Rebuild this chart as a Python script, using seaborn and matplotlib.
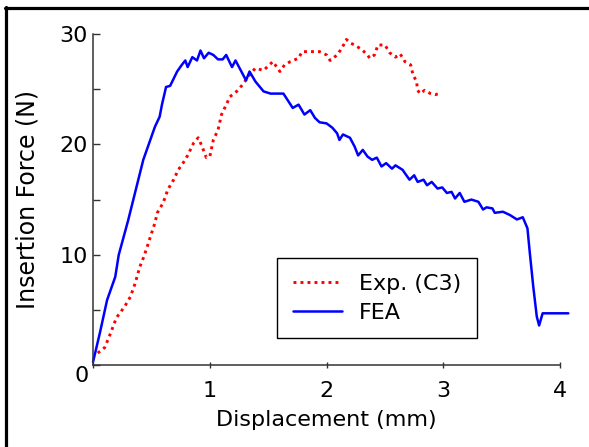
import numpy as np
import pandas as pd
import matplotlib.pyplot as plt
from matplotlib.lines import Line2D
import seaborn as sns

# FEA curve (displacement mm, force N)
fea_x = [0.0, 0.06, 0.12, 0.19, 0.22, 0.30, 0.43, 0.53, 0.57, 0.59, 0.625, 0.66, 0.72, 0.76,
         0.79, 0.81, 0.85, 0.89, 0.92, 0.95, 0.99, 1.03, 1.07, 1.11, 1.14, 1.19, 1.22, 1.27,
         1.31, 1.34, 1.39, 1.46, 1.52, 1.63, 1.71, 1.76, 1.81, 1.86, 1.90, 1.94, 2.0, 2.05,
         2.09, 2.11, 2.14, 2.2, 2.24, 2.27, 2.31, 2.35, 2.39, 2.43, 2.47, 2.51, 2.56, 2.59,
         2.65, 2.71, 2.75, 2.78, 2.83, 2.86, 2.9, 2.95, 2.99, 3.03, 3.07, 3.10, 3.14, 3.18,
         3.24, 3.30, 3.34, 3.37, 3.42, 3.44, 3.51, 3.57, 3.63, 3.68, 3.72, 3.74, 3.77, 3.80,
         3.82, 3.85, 4.07]
fea_y = [0.3, 3.0, 5.9, 8.0, 10.0, 13.1, 18.6, 21.6, 22.5, 23.6, 25.2, 25.3, 26.6, 27.2,
         27.6, 27.0, 27.9, 27.6, 28.5, 27.8, 28.3, 28.1, 27.7, 27.7, 28.1, 27.0, 27.6, 26.6,
         25.8, 26.6, 25.7, 24.8, 24.6, 24.6, 23.3, 23.6, 22.7, 23.1, 22.4, 22.0, 21.9, 21.5,
         21.0, 20.4, 20.9, 20.6, 19.8, 19.0, 19.5, 18.9, 18.6, 18.8, 18.0, 18.3, 17.8, 18.1,
         17.7, 16.8, 17.2, 16.6, 16.8, 16.3, 16.6, 16.0, 16.1, 15.6, 15.7, 15.1, 15.6, 14.8,
         15.0, 14.8, 14.1, 14.3, 14.2, 13.8, 13.9, 13.6, 13.2, 13.4, 12.4, 10.2, 7.1, 4.4,
         3.6, 4.7, 4.7]

# experiment C3
exp_x = [0.04, 0.10, 0.15, 0.20, 0.27, 0.32, 0.36, 0.40, 0.43, 0.46, 0.49, 0.53, 0.55, 0.60,
         0.64, 0.69, 0.73, 0.77, 0.81, 0.86, 0.90, 0.93, 0.97, 1.0, 1.03, 1.07, 1.10, 1.15,
         1.17, 1.23, 1.28, 1.34, 1.39, 1.46, 1.49, 1.54, 1.60, 1.64, 1.69, 1.76, 1.79, 1.86,
         1.94, 2.0, 2.03, 2.09, 2.13, 2.17, 2.2, 2.24, 2.3, 2.35, 2.37, 2.41, 2.44, 2.5,
         2.54, 2.59, 2.63, 2.67, 2.72, 2.74, 2.77, 2.78, 2.80, 2.84, 2.89, 2.93, 2.96]
exp_y = [1.1, 1.6, 2.9, 4.3, 5.3, 6.2, 7.4, 8.9, 9.7, 10.6, 11.6, 12.9, 13.8, 14.7,
         15.9, 16.8, 17.7, 18.3, 19.0, 20.1, 20.6, 19.9, 18.8, 18.9, 20.4, 21.3, 22.7, 23.8,
         24.3, 24.8, 25.4, 26.3, 26.9, 26.7, 27.0, 27.5, 26.6, 27.2, 27.5, 27.8, 28.4, 28.4,
         28.4, 28.1, 27.6, 28.1, 28.7, 29.5, 29.2, 29.0, 28.6, 28.1, 27.8, 28.1, 29.0, 29.0,
         28.3, 27.9, 28.2, 27.5, 27.2, 26.3, 25.7, 24.9, 24.6, 24.9, 24.6, 24.5, 24.6]

fea = pd.DataFrame({'disp': fea_x, 'force': fea_y})
exp = pd.DataFrame({'disp': exp_x, 'force': exp_y})

sns.set_style('ticks')
plt.rcParams['font.family'] = ['DejaVu Sans']
plt.rcParams['text.color'] = 'black'
plt.rcParams['axes.labelcolor'] = 'black'

fig = plt.figure(figsize=(5.89, 4.47), dpi=100)
ax = fig.add_axes([0.158, 0.183, 0.793, 0.741])

sns.lineplot(data=exp, x='disp', y='force', sort=False, estimator=None, ax=ax,
             color='#ff0000', lw=2.1, linestyle=(0, (1, 1.4)), label='Exp. (C3)')
sns.lineplot(data=fea, x='disp', y='force', sort=False, estimator=None, ax=ax,
             color='#0000ff', lw=1.8, label='FEA')
ax.lines[-1].set_clip_on(False)

ax.set_xlim(0, 4)
ax.set_ylim(0, 30)
ax.set_xticks([0, 1, 2, 3, 4])
ax.set_xticklabels(['', '1', '2', '3', '4'])
ax.set_yticks([0, 10, 20, 30])
ax.set_yticklabels(['', '10', '20', '30'])
ax.set_yticks([5, 15, 25], minor=True)
ax.tick_params(axis='x', direction='inout', length=5, width=1, colors='#333333',
               labelcolor='black', labelsize=16, pad=9)
ax.tick_params(axis='y', which='both', direction='in', length=5, width=1, colors='#333333',
               labelcolor='black', labelsize=16, pad=4)
ax.annotate('0', xy=(0, 0), xytext=(-3, -8), textcoords='offset points',
            ha='right', va='center', fontsize=16, color='black')

sns.despine(ax=ax)
for s in ['left', 'bottom']:
    ax.spines[s].set_color('#333333')
    ax.spines[s].set_linewidth(1.1)

ax.set_xlabel('Displacement (mm)', fontsize=16, labelpad=6)
ax.set_ylabel('Insertion Force (N)', fontsize=17, labelpad=14)

leg = ax.legend(loc='upper left', bbox_to_anchor=(0.394, 0.323), fontsize=16,
                frameon=True, fancybox=False, edgecolor='black', framealpha=1,
                handlelength=2.2, handletextpad=0.8, labelspacing=0.4,
                borderpad=0.7, borderaxespad=0)
leg.get_frame().set_linewidth(1.0)
for t in leg.get_texts():
    t.set_color('black')

# cropped frame around the picture
fig.add_artist(Line2D([5 / 589, 1], [1 - 8 / 447, 1 - 8 / 447], color='black', lw=2.3))
fig.add_artist(Line2D([6 / 589, 6 / 589], [0, 1 - 7 / 447], color='black', lw=2.3))

fig.savefig('out.png', dpi=100)
